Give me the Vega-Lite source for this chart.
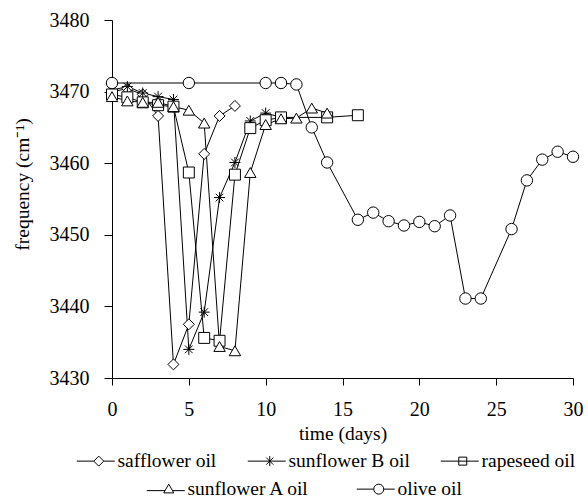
{
  "$schema": "https://vega.github.io/schema/vega-lite/v6.json",
  "width": 461,
  "height": 358,
  "autosize": "none",
  "padding": {"left": 112, "top": 20, "right": 15, "bottom": 121},
  "background": "white",
  "config": {
    "font": "Liberation Serif",
    "view": {"stroke": null},
    "axis": {
      "grid": false,
      "domainColor": "black",
      "tickColor": "black",
      "labelColor": "black",
      "titleColor": "black",
      "labelFont": "Liberation Serif",
      "titleFont": "Liberation Serif",
      "labelFontSize": 20,
      "titleFontSize": 19.5,
      "titleFontWeight": "normal",
      "domainWidth": 1,
      "tickWidth": 1
    },
    "legend": {
      "orient": "none", "direction": "horizontal", "title": null, "padding": 0,
      "labelFont": "Liberation Serif", "labelFontSize": 19.5, "labelColor": "black",
      "symbolSize": 100, "symbolStrokeWidth": 1, "symbolOffset": 15, "labelOffset": 9
    }
  },
  "data": {
    "values": [
      {"oil": "safflower oil", "day": 0, "freq": 3470.0},
      {"oil": "safflower oil", "day": 1, "freq": 3470.4},
      {"oil": "safflower oil", "day": 2, "freq": 3469.6},
      {"oil": "safflower oil", "day": 3, "freq": 3466.6},
      {"oil": "safflower oil", "day": 4, "freq": 3431.9},
      {"oil": "safflower oil", "day": 5, "freq": 3437.5},
      {"oil": "safflower oil", "day": 6, "freq": 3461.3},
      {"oil": "safflower oil", "day": 7, "freq": 3466.6},
      {"oil": "safflower oil", "day": 8, "freq": 3468.0},
      {"oil": "sunflower B oil", "day": 0, "freq": 3470.2},
      {"oil": "sunflower B oil", "day": 1, "freq": 3470.7},
      {"oil": "sunflower B oil", "day": 2, "freq": 3469.8},
      {"oil": "sunflower B oil", "day": 3, "freq": 3469.3},
      {"oil": "sunflower B oil", "day": 4, "freq": 3468.9},
      {"oil": "sunflower B oil", "day": 5, "freq": 3434.0},
      {"oil": "sunflower B oil", "day": 6, "freq": 3439.2},
      {"oil": "sunflower B oil", "day": 7, "freq": 3455.2},
      {"oil": "sunflower B oil", "day": 8, "freq": 3460.1},
      {"oil": "sunflower B oil", "day": 9, "freq": 3465.9},
      {"oil": "sunflower B oil", "day": 10, "freq": 3467.0},
      {"oil": "sunflower B oil", "day": 11, "freq": 3466.4},
      {"oil": "rapeseed oil", "day": 0, "freq": 3469.6},
      {"oil": "rapeseed oil", "day": 1, "freq": 3469.2},
      {"oil": "rapeseed oil", "day": 2, "freq": 3468.5},
      {"oil": "rapeseed oil", "day": 3, "freq": 3468.1},
      {"oil": "rapeseed oil", "day": 4, "freq": 3467.9},
      {"oil": "rapeseed oil", "day": 5, "freq": 3458.7},
      {"oil": "rapeseed oil", "day": 6, "freq": 3435.6},
      {"oil": "rapeseed oil", "day": 7, "freq": 3435.2},
      {"oil": "rapeseed oil", "day": 8, "freq": 3458.4},
      {"oil": "rapeseed oil", "day": 9, "freq": 3464.9},
      {"oil": "rapeseed oil", "day": 10, "freq": 3466.0},
      {"oil": "rapeseed oil", "day": 11, "freq": 3466.4},
      {"oil": "rapeseed oil", "day": 14, "freq": 3466.4},
      {"oil": "rapeseed oil", "day": 16, "freq": 3466.7},
      {"oil": "sunflower A oil", "day": 0, "freq": 3469.3},
      {"oil": "sunflower A oil", "day": 1, "freq": 3468.7},
      {"oil": "sunflower A oil", "day": 2, "freq": 3468.5},
      {"oil": "sunflower A oil", "day": 3, "freq": 3468.5},
      {"oil": "sunflower A oil", "day": 4, "freq": 3467.9},
      {"oil": "sunflower A oil", "day": 5, "freq": 3467.4},
      {"oil": "sunflower A oil", "day": 6, "freq": 3465.6},
      {"oil": "sunflower A oil", "day": 7, "freq": 3434.4},
      {"oil": "sunflower A oil", "day": 8, "freq": 3433.8},
      {"oil": "sunflower A oil", "day": 9, "freq": 3458.7},
      {"oil": "sunflower A oil", "day": 10, "freq": 3465.4},
      {"oil": "sunflower A oil", "day": 11, "freq": 3466.2},
      {"oil": "sunflower A oil", "day": 12, "freq": 3466.3},
      {"oil": "sunflower A oil", "day": 13, "freq": 3467.7},
      {"oil": "sunflower A oil", "day": 14, "freq": 3467.0},
      {"oil": "olive oil", "day": 0, "freq": 3471.2},
      {"oil": "olive oil", "day": 5, "freq": 3471.2},
      {"oil": "olive oil", "day": 10, "freq": 3471.2},
      {"oil": "olive oil", "day": 11, "freq": 3471.2},
      {"oil": "olive oil", "day": 12, "freq": 3471.0},
      {"oil": "olive oil", "day": 13, "freq": 3465.0},
      {"oil": "olive oil", "day": 14, "freq": 3460.1},
      {"oil": "olive oil", "day": 16, "freq": 3452.1},
      {"oil": "olive oil", "day": 17, "freq": 3453.1},
      {"oil": "olive oil", "day": 18, "freq": 3451.9},
      {"oil": "olive oil", "day": 19, "freq": 3451.3},
      {"oil": "olive oil", "day": 20, "freq": 3451.8},
      {"oil": "olive oil", "day": 21, "freq": 3451.2},
      {"oil": "olive oil", "day": 22, "freq": 3452.7},
      {"oil": "olive oil", "day": 23, "freq": 3441.1},
      {"oil": "olive oil", "day": 24, "freq": 3441.1},
      {"oil": "olive oil", "day": 26, "freq": 3450.8},
      {"oil": "olive oil", "day": 27, "freq": 3457.6},
      {"oil": "olive oil", "day": 28, "freq": 3460.5},
      {"oil": "olive oil", "day": 29, "freq": 3461.6},
      {"oil": "olive oil", "day": 30, "freq": 3460.9}
    ]
  },
  "encoding": {
    "x": {
      "field": "day", "type": "quantitative",
      "scale": {"domain": [0, 30], "nice": false, "zero": false},
      "axis": {"values": [0, 5, 10, 15, 20, 25, 30], "tickSize": 7, "labelPadding": 14, "title": "time (days)", "titlePadding": 5, "labelFlush": false}
    },
    "y": {
      "field": "freq", "type": "quantitative",
      "scale": {"domain": [3430, 3480], "nice": false, "zero": false},
      "axis": {"values": [3430, 3440, 3450, 3460, 3470, 3480], "format": "d", "tickSize": 8, "labelPadding": 15, "title": "frequency (cm⁻¹)", "titleX": -80, "titleY": 164, "labelFlush": false}
    }
  },
  "layer": [
    {
      "mark": {"type": "line", "color": "black", "strokeWidth": 1},
      "encoding": {"detail": {"field": "oil"}}
    },
    {
      "transform": [{"filter": {"field": "oil", "oneOf": ["safflower oil", "sunflower B oil", "rapeseed oil"]}}],
      "mark": {"type": "point", "filled": false, "color": "black", "fill": "white", "fillOpacity": 1, "strokeWidth": 1, "opacity": 1, "size": 120},
      "encoding": {
        "shape": {
          "field": "oil", "type": "nominal",
          "scale": {
            "domain": ["safflower oil", "sunflower B oil", "rapeseed oil"],
            "range": ["diamond", "M-1,0L1,0M0,-1L0,1M-0.7,-0.7L0.7,0.7M-0.7,0.7L0.7,-0.7", "square"]
          },
          "legend": null
        }
      }
    },
    {
      "transform": [{"filter": {"field": "oil", "oneOf": ["sunflower A oil", "olive oil"]}}],
      "mark": {"type": "point", "filled": false, "color": "black", "fill": "white", "fillOpacity": 1, "strokeWidth": 1, "opacity": 1, "size": 130},
      "encoding": {
        "shape": {
          "field": "oil", "type": "nominal",
          "scale": {"domain": ["sunflower A oil", "olive oil"], "range": ["triangle-up", "circle"]},
          "legend": null
        }
      }
    },
    {
      "transform": [{"filter": "datum.day < 0"}],
      "mark": {"type": "point", "filled": false, "color": "black", "fill": "white", "fillOpacity": 1, "strokeWidth": 1, "opacity": 1},
      "encoding": {
        "shape": {
          "field": "oil", "type": "nominal",
          "scale": {
            "domain": ["safflower oil", "sunflower B oil", "rapeseed oil"],
            "range": [
              "M-4.4,0L-1,0M1,0L3.2,0M0,-1L1,0L0,1L-1,0Z",
              "M-4.4,0L3.2,0M0,-1L0,1M-0.7,-0.7L0.7,0.7M-0.7,0.7L0.7,-0.7",
              "M-4.4,0L3.2,0M-0.8,-0.8L0.8,-0.8L0.8,0.8L-0.8,0.8Z"
            ]
          },
          "legend": {"legendX": -38, "legendY": 431, "columnPadding": 28}
        }
      }
    },
    {
      "transform": [{"filter": "datum.day < 0"}],
      "mark": {"type": "point", "filled": false, "color": "black", "fill": "white", "fillOpacity": 1, "strokeWidth": 1, "opacity": 1},
      "encoding": {
        "shape": {
          "field": "oil", "type": "nominal",
          "scale": {
            "domain": ["sunflower A oil", "olive oil"],
            "range": [
              "M-4.4,0.3L-0.74,0.3M0.74,0.3L3.2,0.3M0,-1L1,0.75L-1,0.75Z",
              "M-4.4,0L-1,0M1,0L3.2,0M1,0A1,1 0 1,1 -1,0A1,1 0 1,1 1,0Z"
            ]
          },
          "legend": {"legendX": 32, "legendY": 459, "columnPadding": 44}
        }
      }
    }
  ],
  "resolve": {"scale": {"shape": "independent"}}
}
